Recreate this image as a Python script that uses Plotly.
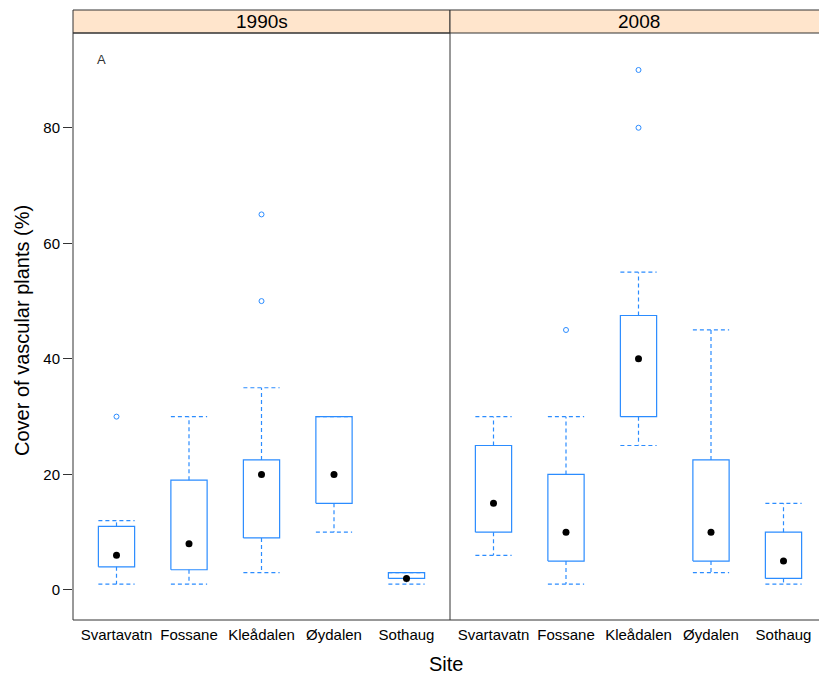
import plotly.graph_objects as go

sites = ["Svartavatn", "Fossane", "Kleådalen", "Øydalen", "Sothaug"]
periods = ["1990s", "2008"]

# 1990s
q1_1990 = [4, 3.5, 9, 15, 2]
med_1990 = [6, 8, 20, 20, 2]
q3_1990 = [11, 19, 22.5, 30, 3]
lo_1990 = [1, 1, 3, 10, 1]
hi_1990 = [12, 30, 35, 30, 3]
out_site_1990 = [1, 3, 3]
out_val_1990 = [30, 50, 65]

# 2008
q1_2008 = [10, 5, 30, 5, 2]
med_2008 = [15, 10, 40, 10, 5]
q3_2008 = [25, 20, 47.5, 22.5, 10]
lo_2008 = [6, 1, 25, 3, 1]
hi_2008 = [30, 30, 55, 45, 15]
out_site_2008 = [2, 3, 3]
out_val_2008 = [45, 80, 90]

y_ticks = [0, 20, 40, 60, 80]

BLUE = "#2b8cff"
HW = 0.25  # half box width in category units
W, H = 819, 675
ML, MR, MT, MB = 73, 1, 33, 55
PW = W - ML - MR
PH = H - MT - MB
split = (450 - ML) / PW
x_range1 = [0.4, 5.6]
x_range2 = [0.4, 0.4 + (W - MR - 450) / 72.5]
y_range = [-5.2, 96.4]

fig = go.Figure()


def add_panel(q1, med, q3, lo, hi, osite, oval, xa, ya):
    bx, by, wx, wy = [], [], [], []
    for i in range(len(sites)):
        c = i + 1
        bx += [c - HW, c + HW, c + HW, c - HW, c - HW, None]
        by += [q1[i], q1[i], q3[i], q3[i], q1[i], None]
        # whiskers
        wx += [c, c, None, c, c, None]
        wy += [q3[i], hi[i], None, q1[i], lo[i], None]
        # caps
        wx += [c - HW, c + HW, None, c - HW, c + HW, None]
        wy += [hi[i], hi[i], None, lo[i], lo[i], None]
    fig.add_trace(go.Scatter(x=wx, y=wy, mode="lines", xaxis=xa, yaxis=ya,
                             line=dict(color=BLUE, width=1.2, dash="4px,3px"),
                             hoverinfo="skip", showlegend=False))
    fig.add_trace(go.Scatter(x=bx, y=by, mode="lines", xaxis=xa, yaxis=ya,
                             line=dict(color=BLUE, width=1.2),
                             hoverinfo="skip", showlegend=False))
    fig.add_trace(go.Scatter(x=list(range(1, len(sites) + 1)), y=med, mode="markers",
                             xaxis=xa, yaxis=ya,
                             marker=dict(color="black", size=7, symbol="circle"),
                             showlegend=False))
    fig.add_trace(go.Scatter(x=osite, y=oval, mode="markers", xaxis=xa, yaxis=ya,
                             marker=dict(color=BLUE, size=5, symbol="circle-open",
                                         line=dict(width=1, color=BLUE)),
                             showlegend=False))


add_panel(q1_1990, med_1990, q3_1990, lo_1990, hi_1990, out_site_1990, out_val_1990, "x", "y")
add_panel(q1_2008, med_2008, q3_2008, lo_2008, hi_2008, out_site_2008, out_val_2008, "x2", "y2")

font = "Liberation Sans, Arial, sans-serif"
xcommon = dict(tickvals=list(range(1, len(sites) + 1)), ticktext=sites,
               showgrid=False, zeroline=False, showline=False, ticks="",
               ticklabelstandoff=4,
               tickfont=dict(size=15, color="black", family=font), fixedrange=True)

fig.update_layout(
    width=W, height=H,
    margin=dict(l=ML, r=MR, t=MT, b=MB),
    paper_bgcolor="white", plot_bgcolor="white",
    font=dict(family=font, color="black"),
    xaxis=dict(domain=[0, split], range=x_range1, anchor="y", **xcommon),
    xaxis2=dict(domain=[split, 1], range=x_range2, anchor="y2", **xcommon),
    yaxis=dict(domain=[0, 1], range=y_range, anchor="x", tickvals=y_ticks,
               ticks="outside", ticklen=9, tickcolor="#333", showgrid=False,
               zeroline=False, showline=False,
               tickfont=dict(size=15, color="black", family=font)),
    yaxis2=dict(domain=[0, 1], range=y_range, anchor="x2", matches="y",
                showticklabels=False, ticks="", showgrid=False, zeroline=False,
                showline=False),
)

strip_top = 1 + 23 / PH
line_col = "#333333"
shapes = [
    # strips
    dict(type="rect", xref="paper", yref="paper", x0=0, x1=split, y0=1, y1=strip_top,
         fillcolor="#FFE5CC", line=dict(color=line_col, width=1)),
    dict(type="rect", xref="paper", yref="paper", x0=split, x1=1.01, y0=1, y1=strip_top,
         fillcolor="#FFE5CC", line=dict(color=line_col, width=1)),
    # panel borders
    dict(type="rect", xref="paper", yref="paper", x0=0, x1=split, y0=0, y1=1,
         line=dict(color=line_col, width=1)),
    dict(type="line", xref="paper", yref="paper", x0=split, x1=1.01, y0=0, y1=0,
         line=dict(color=line_col, width=1)),
]
fig.update_layout(shapes=shapes)

mid_strip = (1 + strip_top) / 2
annotations = [
    dict(text=periods[0], x=split / 2, y=mid_strip, xref="paper", yref="paper",
         xanchor="center", yanchor="middle", showarrow=False,
         font=dict(size=19, color="black", family=font)),
    dict(text=periods[1], x=(split + (450 + 377 - ML) / PW) / 2, y=mid_strip,
         xref="paper", yref="paper", xanchor="center", yanchor="middle", showarrow=False,
         font=dict(size=19, color="black", family=font)),
    dict(text="A", x=0.79, y=91.8, xref="x", yref="y", showarrow=False,
         xanchor="center", yanchor="middle",
         font=dict(size=13, color="#333333", family=font)),
    dict(text="Cover of vascular plants (%)", x=(22 - ML) / PW, y=(620 - 331) / PH,
         xref="paper", yref="paper", xanchor="center", yanchor="middle",
         showarrow=False, textangle=-90,
         font=dict(size=20, color="black", family=font)),
    dict(text="Site", x=(446 - ML) / PW, y=(620 - 664) / PH, xref="paper", yref="paper",
         xanchor="center", yanchor="middle",
         showarrow=False, font=dict(size=20, color="black", family=font)),
]
fig.update_layout(annotations=annotations)

fig.write_html("out.html", config={"displayModeBar": False, "staticPlot": True},
               post_script="document.body.style.margin='0';document.body.style.overflow='hidden';")
